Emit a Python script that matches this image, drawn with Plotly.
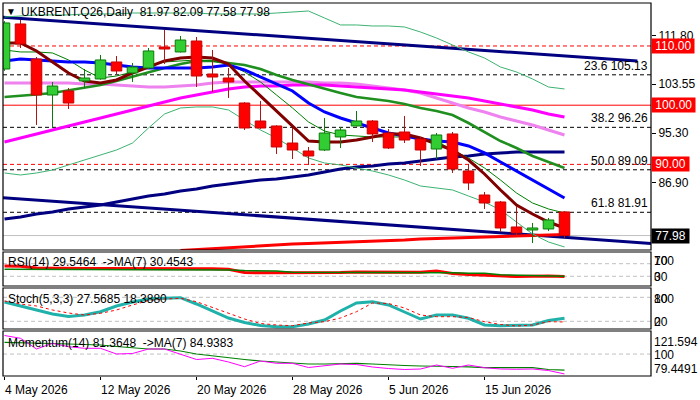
import plotly.graph_objects as go
from plotly.subplots import make_subplots

# ---------------- data ----------------
bar_index = list(range(36))
tick_index = [0, 6, 12, 18, 24, 30]
tick_labels = ["4 May 2026", "12 May 2026", "20 May 2026", "28 May 2026", "5 Jun 2026", "15 Jun 2026"]

opens = [106.11, 113.72, 107.80, 101.72, 102.40, 104.09, 104.43, 107.30, 105.44, 106.28,
         109.83, 108.99, 110.84, 105.27, 104.59, 100.37, 97.33, 96.49, 93.61, 92.26,
         92.43, 94.63, 96.49, 97.33, 95.30, 95.47, 94.29, 92.60, 95.14, 88.89,
         84.83, 83.65, 79.43, 78.92, 79.09, 81.97]
highs = [114.20, 114.39, 108.14, 103.92, 102.91, 106.11, 108.48, 108.31, 107.13, 109.66,
         112.70, 111.69, 111.52, 109.32, 106.28, 100.50, 100.71, 96.60, 96.15, 92.94,
         97.84, 96.32, 99.02, 97.50, 95.98, 98.18, 94.63, 95.30, 95.47, 90.07,
         85.34, 83.82, 82.97, 80.10, 80.95, 82.09]
lows = [105.80, 109.66, 96.66, 96.15, 99.36, 102.91, 104.30, 105.27, 103.92, 106.10,
        106.96, 108.90, 103.07, 102.23, 101.22, 95.81, 96.00, 91.76, 90.91, 89.90,
        92.26, 92.77, 96.40, 93.78, 92.60, 93.61, 89.73, 90.91, 88.55, 85.68,
        82.47, 78.58, 78.07, 76.72, 78.75, 77.58]
closes = [113.89, 110.34, 101.72, 103.24, 100.37, 104.59, 107.64, 105.78, 106.45, 109.16,
          109.49, 111.01, 104.93, 104.76, 103.92, 96.15, 96.15, 92.94, 92.43, 91.42,
          95.30, 95.81, 97.33, 95.14, 92.77, 94.12, 92.43, 94.97, 89.22, 86.86,
          83.48, 79.26, 78.41, 79.26, 80.61, 77.98]

ma_brown = [110.51, 110.51, 109.16, 107.30, 105.44, 104.09, 103.75, 104.26, 105.44, 106.45,
            107.47, 107.97, 108.14, 107.97, 106.96, 104.09, 101.55, 99.02, 96.49, 93.95,
            93.78, 93.78, 94.12, 94.63, 95.14, 95.14, 94.46, 93.45, 92.43, 90.74,
            88.38, 85.68, 83.14, 81.62, 80.27, 79.26]
ma_blue = [107.47, 107.80, 107.64, 107.47, 107.30, 107.30, 107.13, 106.79, 106.45, 106.28,
           106.28, 106.28, 106.28, 106.45, 106.79, 105.95, 104.76, 103.58, 102.40, 100.37,
           98.85, 97.84, 96.99, 96.15, 95.30, 94.80, 94.29, 93.95, 93.78, 93.11,
           91.93, 90.41, 88.89, 87.36, 85.84, 84.32]
ma_green = [101.39, 101.55, 101.81, 102.06, 102.48, 102.91, 103.41, 104.09, 104.85, 105.61,
            106.28, 106.96, 107.47, 107.47, 107.13, 106.79, 106.11, 105.10, 104.26, 103.50,
            102.74, 102.06, 101.39, 101.05, 100.71, 100.20, 99.53, 99.02, 98.34, 96.99,
            95.47, 93.95, 92.77, 91.42, 90.41, 89.39]
ma_thin_green = [109.32, 108.99, 108.99, 108.82, 107.64, 105.95, 104.59, 104.93, 105.61, 106.62,
                 107.30, 107.47, 107.64, 107.47, 106.96, 105.61, 103.92, 101.72, 99.53, 97.16,
                 95.64, 94.97, 94.80, 94.63, 94.63, 94.63, 94.46, 93.95, 92.43, 91.08,
                 89.39, 87.36, 85.17, 83.48, 82.47, 81.79]
ma_magenta = [93.78, 94.46, 95.14, 95.81, 96.49, 97.16, 97.84, 98.51, 99.19, 99.86,
              100.54, 101.22, 101.72, 102.23, 102.74, 103.07, 103.24, 103.24, 103.41, 103.41,
              103.41, 103.24, 103.07, 102.91, 102.74, 102.57, 102.23, 101.89, 101.55, 101.22,
              100.71, 100.20, 99.70, 99.19, 98.51, 98.01]
ma_violet = [103.75, 103.75, 103.75, 103.75, 103.75, 103.58, 103.58, 103.41, 103.24, 103.07,
             103.07, 103.24, 103.41, 103.75, 103.92, 103.92, 103.92, 103.92, 103.92, 103.92,
             103.75, 103.75, 103.58, 103.24, 102.91, 102.57, 102.06, 101.22, 100.37, 99.53,
             98.85, 98.01, 97.33, 96.66, 95.81, 94.97]
ma_navy = [80.78, 81.11, 81.62, 81.96, 82.47, 82.80, 83.14, 83.65, 84.16, 84.66,
           85.00, 85.51, 85.84, 86.35, 86.69, 87.03, 87.36, 87.53, 87.87, 88.21,
           88.72, 89.22, 89.56, 89.73, 90.07, 90.24, 90.57, 90.91, 91.25, 91.42,
           91.76, 91.93, 92.09, 92.09, 92.09, 92.09]
ma_red = [None] * 11 + [75.45, 75.62, 75.79, 75.96, 76.13, 76.22, 76.39, 76.55, 76.64, 76.72,
                        76.89, 76.98, 77.06, 77.14, 77.23, 77.40, 77.48, 77.57, 77.65, 77.74,
                        77.82, 77.91, 77.99, 78.07, 78.16]
bb_upper = [114.90, 115.07, 115.24, 115.24, 115.24, 115.41, 115.41, 115.41, 115.57, 115.57,
            115.57, 115.57, 115.57, 115.41, 115.41, 115.41, 115.41, 115.57, 115.74, 115.91,
            114.73, 113.55, 113.55, 113.38, 113.38, 113.21, 112.36, 111.35, 110.17, 108.99,
            107.97, 106.45, 105.61, 104.43, 103.07, 102.74]
bb_lower = [88.55, 88.21, 88.55, 89.05, 89.90, 90.74, 91.59, 92.43, 93.61, 96.15,
            98.51, 99.53, 99.70, 99.70, 99.19, 97.50, 95.81, 94.46, 92.77, 91.08,
            90.24, 89.90, 89.39, 88.89, 88.21, 87.36, 86.35, 86.01, 85.68, 84.66,
            83.65, 82.30, 80.27, 78.24, 76.89, 76.05]

# trend channel anchors (bar index, price)
trend_upper_x = [-0.1, 39.56]
trend_upper_y = [114.85, 107.47]
trend_lower_x = [-0.1, 40.5]
trend_lower_y = [84.38, 76.64]

red_dash_levels = [110.00, 90.00]
red_solid_levels = [100.00]
fib_pcts = ["23.6", "38.2", "50.0", "61.8"]
fib_levels = [105.13, 96.26, 89.09, 81.91]
last_price = 77.98
price_ticks = [111.80, 103.55, 95.30, 86.90]

rsi = [63, 62, 56, 55, 55, 55, 55, 55, 55, 55, 55, 55, 55, 54, 52, 42, 41, 41, 42, 42,
       42, 42, 44, 44, 43, 43, 43, 47, 39, 36, 34, 30, 29, 30, 31, 29.55]
rsi_ma = [52, 52, 52, 52, 51, 51, 51, 51, 51, 51, 51, 51, 51, 51, 50, 48, 48, 47, 43, 43,
          43, 43, 41, 41, 41, 41, 41, 41, 41, 40, 40, 35, 34, 33, 31, 30.45]
stoch_k = [68.25, 58.25, 48.25, 38.25, 32, 35.75, 44, 58.25, 68.25, 75.75, 77.5, 79, 63.25,
           45.75, 28.25, 17, 9.5, 6.5, 6.5, 13.25, 23.25, 45.75, 65.75, 69, 60.75, 43.25,
           25.75, 35.75, 35.75, 27.5, 10.75, 9, 9, 10.75, 22, 27.57]
stoch_d = [70.75, 63.25, 58.25, 48.25, 40.75, 35.75, 40, 48.25, 60.75, 72, 75.75, 77.5, 69,
           54.5, 39.5, 25.75, 14.5, 10.75, 9, 15.75, 19, 28.25, 44, 65.75, 64.5, 53.25,
           35.75, 31.5, 31.5, 29.5, 19, 12, 8.25, 10.75, 19, 18.39]
momentum = [117.38, 114.76, 104.74, 110.07, 106.89, 105.39, 105.39, 100.05, 100.52, 104.74,
            104.74, 100.05, 94.90, 96.02, 92.56, 88.16, 93.50, 91.34, 91.34, 87.41,
            88.81, 90.69, 90.22, 87.88, 86.47, 85.53, 86.00, 89.75, 86.66, 89.75,
            87.22, 86.00, 85.72, 86.00, 84.60, 81.36]
momentum_ma = [111.01, 110.82, 110.36, 109.89, 109.42, 108.95, 108.48, 107.08, 106.14, 104.74,
               104.74, 102.86, 100.05, 98.18, 96.31, 94.90, 93.50, 92.56, 92.09, 90.69,
               90.69, 91.16, 91.34, 90.69, 89.75, 89.28, 88.81, 88.81, 88.35, 88.07,
               87.22, 87.22, 87.22, 87.22, 85.53, 84.94]

# ---------------- layout helpers ----------------
W, H = 700, 400
ML, MR, MT, MB = 3, 49, 3, 24
PW, PH = W - ML - MR, H - MT - MB


def px_x(x):
    return (x - ML) / PW


def px_y(y):
    return (H - MB - y) / PH


dom_main = [px_y(250), 1.0]
dom_rsi = [px_y(286), px_y(252)]
dom_sto = [px_y(329), px_y(288)]
dom_mom = [0.0, px_y(331)]

FONT = "Liberation Sans, Arial, sans-serif"

fig = make_subplots(rows=4, cols=1, shared_xaxes=True, vertical_spacing=0.01)


def line(y, color, width, row=1, dash=None, x=None, shape="linear"):
    fig.add_trace(go.Scatter(x=bar_index if x is None else x, y=y, mode="lines",
                             line=dict(color=color, width=width, dash=dash, shape=shape),
                             hoverinfo="skip", connectgaps=False), row=row, col=1)


# main panel indicator lines
line(trend_upper_y, "#000080", 3, x=trend_upper_x)
line(trend_lower_y, "#000080", 3, x=trend_lower_x)
line(ma_navy, "#000080", 3)
line(ma_red, "#ff0000", 3)
line(bb_upper, "#3cb371", 1)
line(bb_lower, "#3cb371", 1)
line(ma_violet, "#ee82ee", 3)
line(ma_magenta, "#ff00ff", 3)
line(ma_green, "#1f8f1f", 2.6)
line(ma_thin_green, "#008000", 1)
line(ma_blue, "#0000ff", 3)
line(ma_brown, "#800000", 3)

# candles: wicks then bodies
HW = 0.33
bull_wx, bull_wy, bear_wx, bear_wy = [], [], [], []
bull_bx, bull_by, bear_bx, bear_by = [], [], [], []
for i, o, h, l, c in zip(bar_index, opens, highs, lows, closes):
    top, bot = max(o, c), min(o, c)
    bull = c >= o
    wx, wy = (bull_wx, bull_wy) if bull else (bear_wx, bear_wy)
    bx, by = (bull_bx, bull_by) if bull else (bear_bx, bear_by)
    wx += [i, i, None, i, i, None]
    wy += [top, h, None, l, bot, None]
    bx += [i - HW, i + HW, i + HW, i - HW, i - HW, None]
    by += [bot, bot, top, top, bot, None]

fig.add_trace(go.Scatter(x=bull_wx, y=bull_wy, mode="lines", line=dict(color="#0b7a0b", width=1),
                         hoverinfo="skip"), row=1, col=1)
fig.add_trace(go.Scatter(x=bear_wx, y=bear_wy, mode="lines", line=dict(color="#b01515", width=1),
                         hoverinfo="skip"), row=1, col=1)
fig.add_trace(go.Scatter(x=bull_bx, y=bull_by, mode="lines", fill="toself", fillcolor="#32cd32",
                         line=dict(color="#0b7a0b", width=1), hoverinfo="skip"), row=1, col=1)
fig.add_trace(go.Scatter(x=bear_bx, y=bear_by, mode="lines", fill="toself", fillcolor="#ff0000",
                         line=dict(color="#c80000", width=1), hoverinfo="skip"), row=1, col=1)

# RSI
line(rsi, "#ff0000", 3, row=2)
line(rsi_ma, "#008000", 1.5, row=2)
# Stochastic
line(stoch_k, "#20b2aa", 3, row=3)
line(stoch_d, "#ff0000", 1, row=3, dash="dot")
# Momentum
line(momentum_ma, "#008000", 1.2, row=4)
line(momentum, "#ff00ff", 1, row=4)

shapes = []
# horizontal levels in main panel
for lv in red_dash_levels:
    shapes.append(dict(type="line", xref="paper", x0=0, x1=1, yref="y", y0=lv, y1=lv,
                       line=dict(color="#ff0000", width=1, dash="4px,3px"), layer="below"))
for lv in red_solid_levels:
    shapes.append(dict(type="line", xref="paper", x0=0, x1=1, yref="y", y0=lv, y1=lv,
                       line=dict(color="#ff0000", width=1), layer="below"))
for lv in fib_levels:
    shapes.append(dict(type="line", xref="paper", x0=0, x1=1, yref="y", y0=lv, y1=lv,
                       line=dict(color="#000000", width=1, dash="4px,3px"), layer="below"))
shapes.append(dict(type="line", xref="paper", x0=0, x1=1, yref="y", y0=last_price, y1=last_price,
                   line=dict(color="#c0c0c0", width=1), layer="below"))
# indicator levels
for yr, lv in [("y2", 70), ("y2", 30), ("y3", 80), ("y3", 20), ("y4", 100)]:
    shapes.append(dict(type="line", xref="paper", x0=0, x1=1, yref=yr, y0=lv, y1=lv,
                       line=dict(color="#c0c0c0", width=1, dash="4px,3px"), layer="below"))
# panel frames
for d in [dom_main, dom_rsi, dom_sto, dom_mom]:
    shapes.append(dict(type="rect", xref="paper", yref="paper", x0=0, x1=1, y0=d[0], y1=d[1],
                       line=dict(color="#000000", width=1.2), fillcolor="rgba(0,0,0,0)", layer="above"))

ann = []


def text(t, x, y, xanchor="left", xref="paper", yref="paper", yanchor="middle", size=12,
         color="#000000", **kw):
    ann.append(dict(text=t, x=x, y=y, xref=xref, yref=yref, xanchor=xanchor, yanchor=yanchor,
                    showarrow=False, font=dict(family=FONT, size=size, color=color), **kw))


text("\u25bc", px_x(11), px_y(11), xanchor="center", size=10)
text("UKBRENT.Q26,Daily\u00a0\u00a0%.2f %.2f %.2f %.2f" % (opens[-1], highs[-1], lows[-1], closes[-1]),
     px_x(19), px_y(12))
text("RSI(14) 29.5464 \u00a0->MA(7) 30.4543", px_x(6), px_y(262))
text("Stoch(5,3,3) 27.5685 18.3880", px_x(6), px_y(299))
text("Momentum(14) 81.3648 \u00a0->MA(7) 84.9383", px_x(6), px_y(343))

for p, lv in zip(fib_pcts, fib_levels):
    text("%s %.2f" % (p, lv), 1, lv, xanchor="right", yref="y", yanchor="bottom", xshift=-1)

for lv, bg in [(110.00, "#ff0000"), (100.00, "#ff0000"), (90.00, "#ff0000"), (last_price, "#000000")]:
    text("\u00a0%.2f\u00a0" % lv, 1, lv, yref="y", color="#ffffff", bgcolor=bg, borderpad=0,
         height=14, valign="middle")

# sub-panel scale labels (MT4 style overlapping)
for t, y in [("100", 260.5), ("70", 260.5), ("30", 277), ("0", 277),
             ("100", 298.5), ("80", 298.5), ("20", 321.5), ("0", 321.5),
             ("121.594", 341.7), ("100", 355), ("79.4491", 369)]:
    text(t, 1, px_y(y), xshift=1)

for ti, tl in zip(tick_index, tick_labels):
    text(tl, ti, px_y(381), xref="x4", yanchor="top", xshift=-2)

xr = [-0.09375, -0.09375 + PW / 16.0]
fig.update_xaxes(range=xr, showgrid=False, zeroline=False, showticklabels=False, showline=False)
fig.update_xaxes(tickvals=tick_index, ticks="outside", ticklen=3, tickcolor="#000000", row=4, col=1)
fig.update_yaxes(showgrid=False, zeroline=False, showline=False, side="right", showticklabels=False)

fig.update_layout(
    width=W, height=H, margin=dict(l=ML, r=MR, t=MT, b=MB),
    paper_bgcolor="white", plot_bgcolor="white", showlegend=False,
    font=dict(family=FONT, size=12, color="black"),
    yaxis=dict(domain=dom_main, range=[75.54, 117.26], showticklabels=True,
               tickvals=price_ticks, ticktext=["%.2f" % v for v in price_ticks],
               ticks="outside", ticklen=4, tickcolor="#000000",
               tickfont=dict(family=FONT, size=12, color="black")),
    yaxis2=dict(domain=dom_rsi, range=[-0.8, 107.1]),
    yaxis3=dict(domain=dom_sto, range=[0.75, 103.25]),
    yaxis4=dict(domain=dom_mom, range=[79.4491, 121.594]),
    shapes=shapes, annotations=ann,
)

fig.write_html("out.html")
